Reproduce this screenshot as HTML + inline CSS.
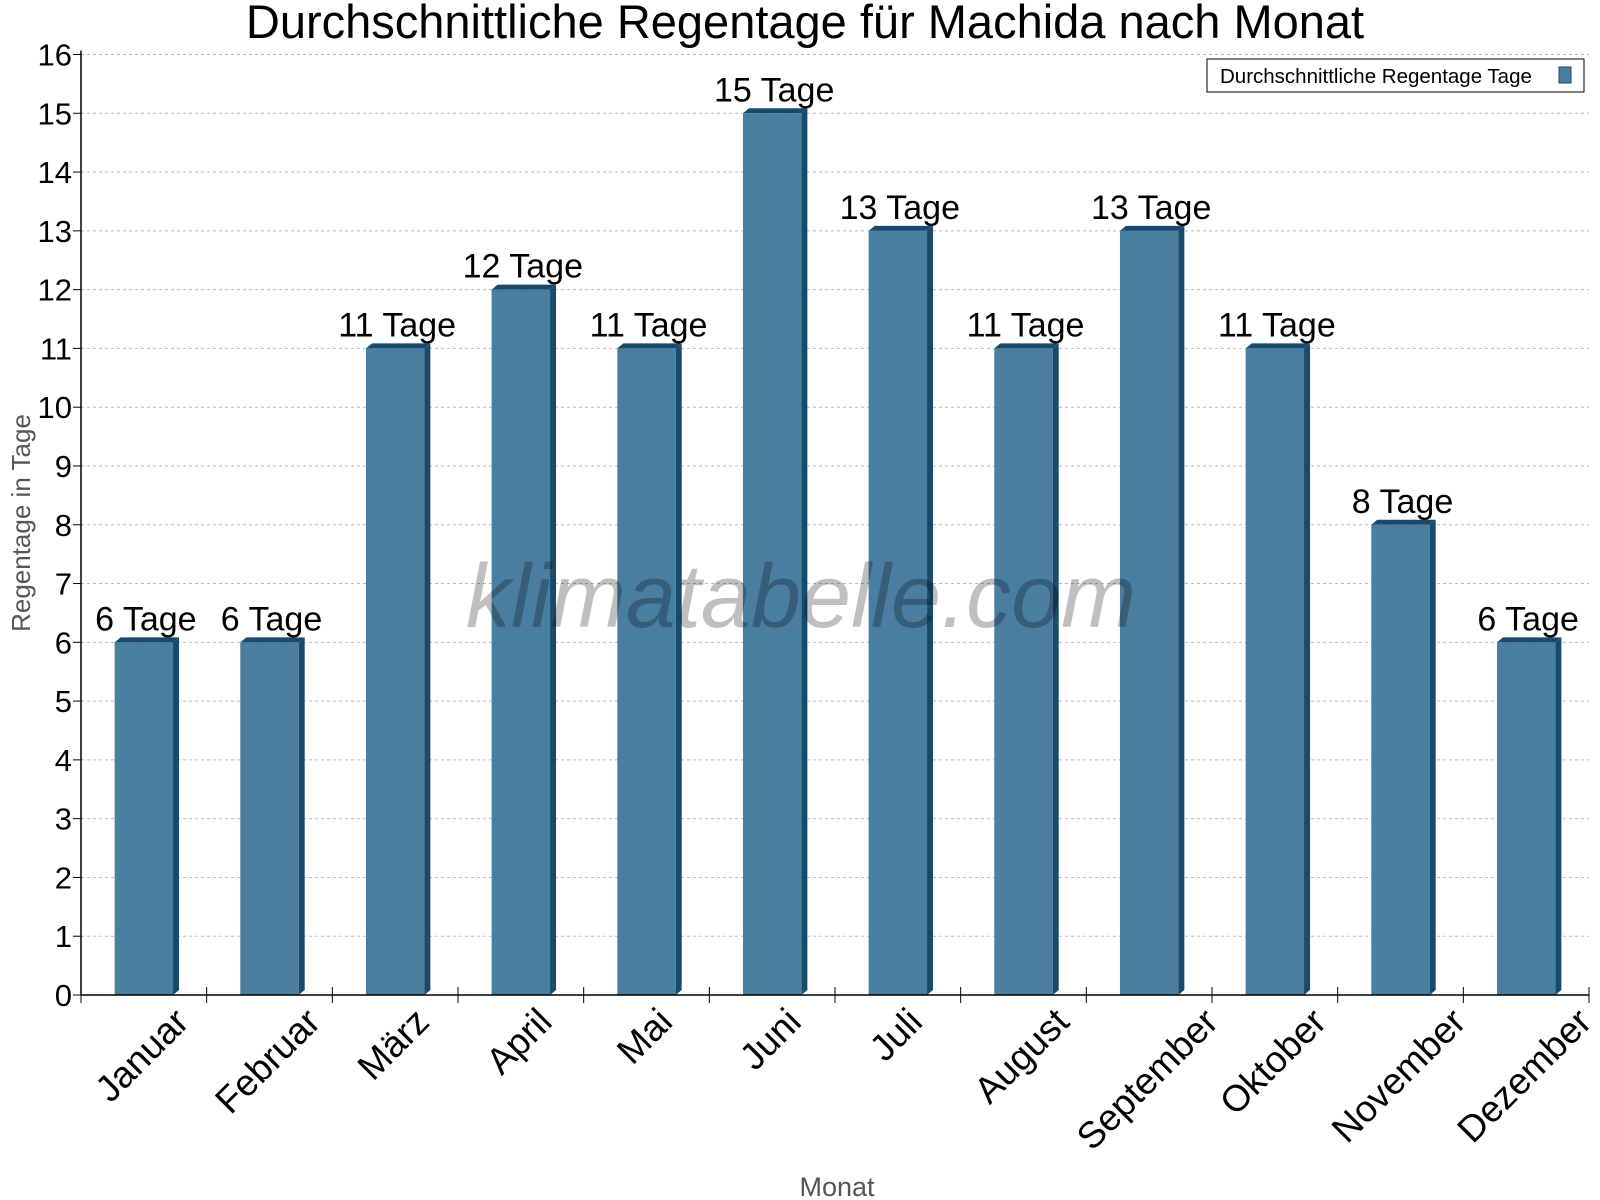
<!DOCTYPE html>
<html><head><meta charset="utf-8"><style>
body{margin:0;background:#fff}
svg{display:block;font-family:"Liberation Sans",sans-serif}
</style></head><body>
<svg id="chart" width="1600" height="1200">
<text x="805" y="38" text-anchor="middle" font-size="47">Durchschnittliche Regentage für Machida nach Monat</text>
<g id="grid"></g><g id="bars"></g><g id="axes"></g>
<text x="801" y="627" text-anchor="middle" font-size="90" font-style="italic" fill="#000" fill-opacity="0.25">klimatabelle.com</text>
<text transform="translate(30,523) rotate(-90)" text-anchor="middle" font-size="26" fill="#555">Regentage in Tage</text>
<text x="837" y="1196" text-anchor="middle" font-size="27" fill="#555">Monat</text>
<g>
<rect x="1207" y="59" width="377" height="33" fill="#fff" stroke="#000" stroke-width="1"/>
<text x="1220" y="83" font-size="20.5">Durchschnittliche Regentage Tage</text>
<rect x="1559" y="67" width="12" height="16" fill="#4a7ea0" stroke="#1a4a6b"/>
</g>
</svg>
<script>
const categories=["Januar","Februar","März","April","Mai","Juni","Juli","August","September","Oktober","November","Dezember"];
const values=[6,6,11,12,11,15,13,11,13,11,8,6];
const yTicks=[0,1,2,3,4,5,6,7,8,9,10,11,12,13,14,15,16];
const NS="http://www.w3.org/2000/svg";
const x0=81,x1=1589,y0=995,y1=54.5,yMax=16;
const band=(x1-x0)/categories.length;
const y=v=>y0-(y0-y1)*v/yMax;
const bx=i=>x0+band*i+band/2;
function mk(t,a,p){const e=document.createElementNS(NS,t);for(const k in a)e.setAttribute(k,a[k]);p.appendChild(e);return e;}
const grid=document.getElementById('grid'),bars=document.getElementById('bars'),axes=document.getElementById('axes');
yTicks.forEach(t=>{
  if(t>0){const g=mk('line',{x1:x0,x2:x1,y1:y(t),y2:y(t),stroke:'#bbb','stroke-dasharray':'3,3'},grid);
  
  }
  const tk=mk('line',{x1:x0-8,x2:x0,y1:y(t),y2:y(t),stroke:'#000'},axes);
  
  
  const l=mk('text',{x:x0-9,y:y(t)+11,'text-anchor':'end','font-size':31},axes);l.textContent=t;
  
  
});
mk('line',{x1:x0,x2:x0,y1:y1-4,y2:y0,stroke:'#000','stroke-width':1.5},axes);
mk('line',{x1:x0,x2:x1,y1:y0,y2:y0,stroke:'#000','stroke-width':1.5},axes);
const w=58.4,d=6;
categories.forEach((c,i)=>{
  const cx=bx(i),l=cx-w/2,r=cx+w/2,top=y(values[i]);
  const g=mk('g',{},bars);
  
  
  mk('polygon',{points:`${r},${top} ${r+d},${top-5} ${r+d},${y0-5} ${r},${y0}`,fill:'#1a4a6b'},g);
  mk('polygon',{points:`${l},${top} ${l+d},${top-5} ${r+d},${top-5} ${r},${top}`,fill:'#1a4a6b'},g);
  mk('rect',{x:l,y:top,width:w,height:y0-top,fill:'#4a7ea0'},g);
  const v=mk('text',{x:cx+2,y:top-12,'text-anchor':'middle','font-size':34},bars);v.textContent=values[i]+' Tage';
  
  
  const tk=mk('line',{x1:x0+band*(i+1),x2:x0+band*(i+1),y1:y0-8,y2:y0+8,stroke:'#000'},axes);
  
  
  const xl=mk('text',{'text-anchor':'middle','font-size':37,'dominant-baseline':'middle'},axes);xl.textContent=c;
  
  
  const L=xl.getComputedTextLength();
  const yc=y0+22+L*0.354;
  xl.setAttribute('x',cx);xl.setAttribute('y',yc);
  xl.setAttribute('transform',`rotate(-45 ${cx} ${yc})`);
});
mk('line',{x1:x0,x2:x0,y1:y0,y2:y0+8,stroke:'#000'},axes);
</script>
</body></html>
